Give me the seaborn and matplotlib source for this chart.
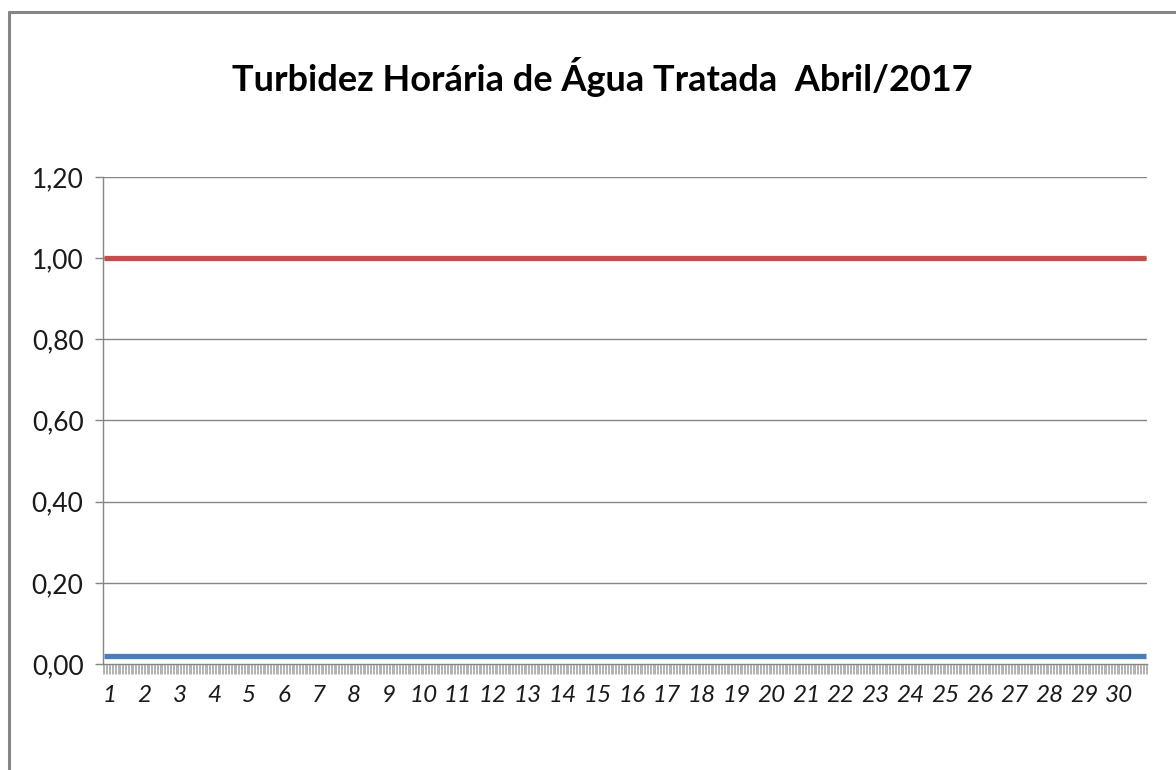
import numpy as np
import pandas as pd
import matplotlib
matplotlib.use("Agg")
import matplotlib.pyplot as plt
import seaborn as sns
from matplotlib.lines import Line2D

# ---- data ----
dias = list(range(1, 31))                       # day labels
horas_por_dia = 24
# daily level of the hourly treated-water turbidity (NTU)
turbidez_dia = [0.02, 0.02, 0.02, 0.02, 0.02, 0.02, 0.02, 0.02, 0.02, 0.02,
                0.02, 0.02, 0.02, 0.02, 0.02, 0.02, 0.02, 0.02, 0.02, 0.02,
                0.02, 0.02, 0.02, 0.02, 0.02, 0.02, 0.02, 0.02, 0.02, 0.02]
horas_sem_dado = [98, 122]                      # missing hourly readings
limite = 1.00                                   # VMP limit
y_ticks = [0.0, 0.2, 0.4, 0.6, 0.8, 1.0, 1.2]
y_labels = ["0,00", "0,20", "0,40", "0,60", "0,80", "1,00", "1,20"]
titulo = "Turbidez Horária de Água Tratada  Abril/2017"

# ---- build hourly table ----
n = len(dias) * horas_por_dia
hora = np.arange(n) + 0.5
turb = np.repeat(turbidez_dia, horas_por_dia).astype(float)
turb[horas_sem_dado] = np.nan
df = pd.DataFrame({"hora": hora, "turbidez": turb, "limite": np.full(n, limite)})

sns.set_style("white")
plt.rcParams["font.family"] = ["Lato", "DejaVu Sans"]

fig = plt.figure(figsize=(11.76, 7.7), dpi=100)
ax = fig.add_axes([103/1176, 1-664/770, (1147-103)/1176, (664-177)/770])

gray = "#868686"
ax.set_ylim(0, 1.2)
ax.set_xlim(0, n)
ax.set_yticks(y_ticks)
ax.set_yticklabels(y_labels, fontsize=19, color="#1a1a1a")
for y in y_ticks[1:]:
    ax.axhline(y, color=gray, lw=1.0, zorder=0)

sns.lineplot(data=df, x="hora", y="limite", ax=ax, color="#C0504D", lw=3.8,
             solid_capstyle="butt", zorder=3)
sns.lineplot(data=df, x="hora", y="turbidez", ax=ax, color="#4A7EBB", lw=3.8,
             solid_capstyle="butt", zorder=4)

# x axis: hourly minor ticks, day labels
ax.set_xticks(np.arange(0, n + 1), minor=True)
ax.set_xticks([(d - 1) * horas_por_dia + 4.8 for d in dias])
ax.set_xticklabels([str(d) for d in dias], fontsize=17.5, style="italic", color="#1a1a1a")
ax.tick_params(axis="x", which="minor", length=7.5, width=0.6, color="#a6a6a6", direction="out", bottom=True)
ax.tick_params(axis="x", which="major", length=0, pad=15)
ax.tick_params(axis="y", which="major", length=6, width=1, color=gray, direction="out", left=True, pad=8)
ax.set_xlabel("")
ax.set_ylabel("")

for s in ["top", "right"]:
    ax.spines[s].set_visible(False)
for s in ["left", "bottom"]:
    ax.spines[s].set_color(gray)
    ax.spines[s].set_linewidth(1.0)

fig.text(602/1176, 1-77/770, titulo, ha="center", va="center",
         fontsize=26, fontweight="bold", color="#000000")

# outer chart frame (left and top edges)
fig.add_artist(Line2D([9/1176, 9/1176], [0, 1-12/770], color=gray, lw=2.2, transform=fig.transFigure))
fig.add_artist(Line2D([9/1176, 1], [1-12/770, 1-12/770], color=gray, lw=2.2, transform=fig.transFigure))

fig.savefig("out.png", dpi=100, facecolor="white")
